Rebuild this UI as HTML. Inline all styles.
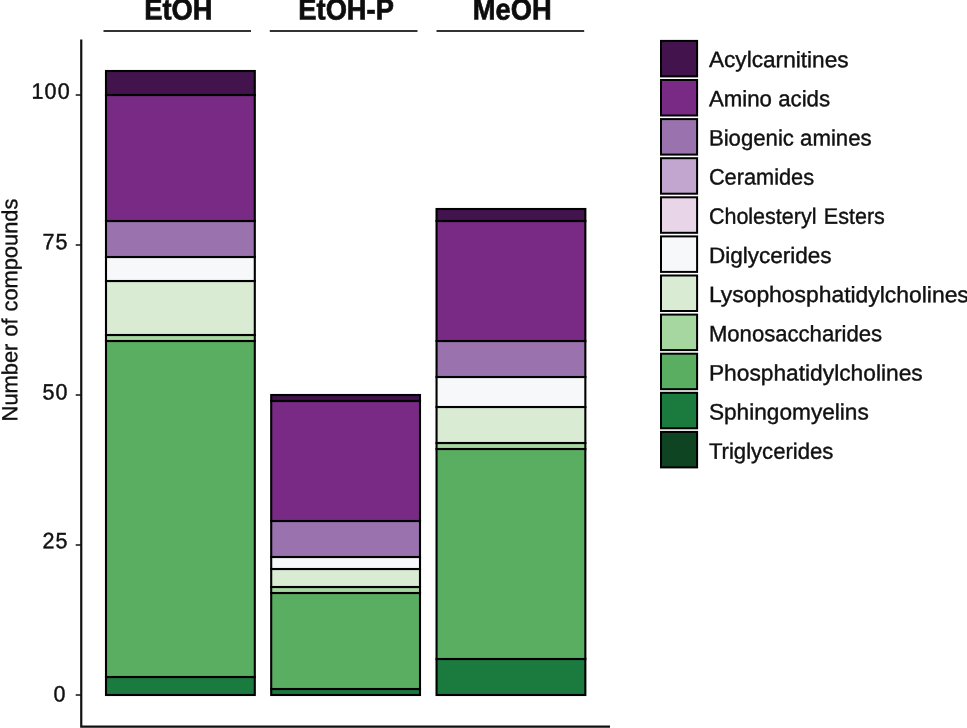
<!DOCTYPE html>
<html lang="en"><head><meta charset="utf-8"><title>Number of compounds</title>
<style>
html,body{margin:0;padding:0;background:#fff;}
body{width:967px;height:728px;overflow:hidden;}
svg{display:block;}
text{font-family:"Liberation Sans",sans-serif;fill:#111;text-rendering:geometricPrecision;}
.hd{font-weight:bold;font-size:27.5px;text-anchor:middle;fill:#0d0d0d;stroke:#0d0d0d;stroke-width:0.65px;stroke-linejoin:miter;}
.tk{font-size:22.2px;letter-spacing:1.25px;text-anchor:end;stroke:#111;stroke-width:0.45px;}
.lg{font-size:22.3px;stroke:#111;stroke-width:0.4px;}
</style></head><body>
<svg width="967" height="728" viewBox="0 0 967 728">
<rect width="967" height="728" fill="#fff"/>
<text class="hd" transform="translate(178.4,19.45) rotate(0.03) scale(0.992,1.075)">EtOH</text>
<text class="hd" transform="translate(346.1,19.45) rotate(0.03) scale(0.992,1.075)">EtOH-P</text>
<text class="hd" transform="translate(512.2,19.45) rotate(0.03) scale(0.992,1.075)">MeOH</text>
<line x1="103.5" x2="251" y1="31" y2="31" stroke="#333" stroke-width="2"/>
<line x1="269.8" x2="417.5" y1="31" y2="31" stroke="#333" stroke-width="2"/>
<line x1="436.5" x2="584.2" y1="31" y2="31" stroke="#333" stroke-width="2"/>
<path d="M81.25 39.5 V726.6 H610" fill="none" stroke="#111" stroke-width="2.2"/>
<line x1="75.7" x2="81" y1="695" y2="695" stroke="#111" stroke-width="1.5"/>
<text class="tk" transform="translate(66.6,701.4) rotate(0.03) scale(0.97,1)">0</text>
<line x1="75.7" x2="81" y1="545" y2="545" stroke="#111" stroke-width="1.5"/>
<text class="tk" transform="translate(68.75,548.2) rotate(0.03) scale(0.97,1)">25</text>
<line x1="75.7" x2="81" y1="395" y2="395" stroke="#111" stroke-width="1.5"/>
<text class="tk" transform="translate(68.75,399.6) rotate(0.03) scale(0.97,1)">50</text>
<line x1="75.7" x2="81" y1="245" y2="245" stroke="#111" stroke-width="1.5"/>
<text class="tk" transform="translate(68.75,249.2) rotate(0.03) scale(0.97,1)">75</text>
<line x1="75.7" x2="81" y1="95" y2="95" stroke="#111" stroke-width="1.5"/>
<text class="tk" transform="translate(71.0,98.7) rotate(0.03) scale(0.97,1)">100</text>
<text transform="translate(17.2,310) rotate(-90.03)" style="stroke:#111;stroke-width:0.35px;word-spacing:0.9px;font-size:21.85px;text-anchor:middle">Number of compounds</text>
<rect x="106" y="677" width="148.8" height="18" fill="#1b7a3e" stroke="#000" stroke-width="2.1"/>
<rect x="106" y="341" width="148.8" height="336" fill="#5aae61" stroke="#000" stroke-width="2.1"/>
<rect x="106" y="335" width="148.8" height="6" fill="#a6d7a0" stroke="#000" stroke-width="2.1"/>
<rect x="106" y="281" width="148.8" height="54" fill="#d9ebd3" stroke="#000" stroke-width="2.1"/>
<rect x="106" y="257" width="148.8" height="24" fill="#f7f8fa" stroke="#000" stroke-width="2.1"/>
<rect x="106" y="221" width="148.8" height="36" fill="#9a72ae" stroke="#000" stroke-width="2.1"/>
<rect x="106" y="95" width="148.8" height="126" fill="#782a84" stroke="#000" stroke-width="2.1"/>
<rect x="106" y="71" width="148.8" height="24" fill="#42134d" stroke="#000" stroke-width="2.1"/>
<rect x="271.2" y="689" width="148.8" height="6" fill="#1b7a3e" stroke="#000" stroke-width="2.1"/>
<rect x="271.2" y="593" width="148.8" height="96" fill="#5aae61" stroke="#000" stroke-width="2.1"/>
<rect x="271.2" y="587" width="148.8" height="6" fill="#a6d7a0" stroke="#000" stroke-width="2.1"/>
<rect x="271.2" y="569" width="148.8" height="18" fill="#d9ebd3" stroke="#000" stroke-width="2.1"/>
<rect x="271.2" y="557" width="148.8" height="12" fill="#f7f8fa" stroke="#000" stroke-width="2.1"/>
<rect x="271.2" y="521" width="148.8" height="36" fill="#9a72ae" stroke="#000" stroke-width="2.1"/>
<rect x="271.2" y="401" width="148.8" height="120" fill="#782a84" stroke="#000" stroke-width="2.1"/>
<rect x="271.2" y="395" width="148.8" height="6" fill="#42134d" stroke="#000" stroke-width="2.1"/>
<rect x="436.55" y="659" width="148.8" height="36" fill="#1b7a3e" stroke="#000" stroke-width="2.1"/>
<rect x="436.55" y="449" width="148.8" height="210" fill="#5aae61" stroke="#000" stroke-width="2.1"/>
<rect x="436.55" y="443" width="148.8" height="6" fill="#a6d7a0" stroke="#000" stroke-width="2.1"/>
<rect x="436.55" y="407" width="148.8" height="36" fill="#d9ebd3" stroke="#000" stroke-width="2.1"/>
<rect x="436.55" y="377" width="148.8" height="30" fill="#f7f8fa" stroke="#000" stroke-width="2.1"/>
<rect x="436.55" y="341" width="148.8" height="36" fill="#9a72ae" stroke="#000" stroke-width="2.1"/>
<rect x="436.55" y="221" width="148.8" height="120" fill="#782a84" stroke="#000" stroke-width="2.1"/>
<rect x="436.55" y="209" width="148.8" height="12" fill="#42134d" stroke="#000" stroke-width="2.1"/>
<rect x="661" y="40.9" width="36.1" height="35.5" fill="#42134d" stroke="#000" stroke-width="2"/>
<text class="lg" transform="translate(708.9,67.10) rotate(0.03)" textLength="139.7" lengthAdjust="spacingAndGlyphs">Acylcarnitines</text>
<rect x="661" y="80.0" width="36.1" height="35.5" fill="#782a84" stroke="#000" stroke-width="2"/>
<text class="lg" transform="translate(708.9,106.26) rotate(0.03)" textLength="121.2" lengthAdjust="spacingAndGlyphs">Amino acids</text>
<rect x="661" y="119.1" width="36.1" height="35.5" fill="#9a72ae" stroke="#000" stroke-width="2"/>
<text class="lg" transform="translate(708.9,145.42) rotate(0.03)" textLength="162.7" lengthAdjust="spacingAndGlyphs">Biogenic amines</text>
<rect x="661" y="158.2" width="36.1" height="35.5" fill="#c2a6cf" stroke="#000" stroke-width="2"/>
<text class="lg" transform="translate(708.9,184.58) rotate(0.03)" textLength="105.2" lengthAdjust="spacingAndGlyphs">Ceramides</text>
<rect x="661" y="197.3" width="36.1" height="35.5" fill="#e8d5e8" stroke="#000" stroke-width="2"/>
<text class="lg" style="word-spacing:1.5px" transform="translate(708.9,223.74) rotate(0.03)" textLength="175.9" lengthAdjust="spacingAndGlyphs">Cholesteryl Esters</text>
<rect x="661" y="236.4" width="36.1" height="35.5" fill="#f7f8fa" stroke="#000" stroke-width="2"/>
<text class="lg" transform="translate(708.9,262.90) rotate(0.03)" textLength="122.6" lengthAdjust="spacingAndGlyphs">Diglycerides</text>
<rect x="661" y="275.5" width="36.1" height="35.5" fill="#d9ebd3" stroke="#000" stroke-width="2"/>
<text class="lg" transform="translate(708.9,302.06) rotate(0.03)" textLength="259.9" lengthAdjust="spacingAndGlyphs">Lysophosphatidylcholines</text>
<rect x="661" y="314.6" width="36.1" height="35.5" fill="#a6d7a0" stroke="#000" stroke-width="2"/>
<text class="lg" transform="translate(708.9,341.22) rotate(0.03)" textLength="173.2" lengthAdjust="spacingAndGlyphs">Monosaccharides</text>
<rect x="661" y="353.7" width="36.1" height="35.5" fill="#5aae61" stroke="#000" stroke-width="2"/>
<text class="lg" transform="translate(708.9,380.38) rotate(0.03)" textLength="213.8" lengthAdjust="spacingAndGlyphs">Phosphatidylcholines</text>
<rect x="661" y="392.8" width="36.1" height="35.5" fill="#1b7a3e" stroke="#000" stroke-width="2"/>
<text class="lg" transform="translate(708.9,419.54) rotate(0.03)" textLength="159.9" lengthAdjust="spacingAndGlyphs">Sphingomyelins</text>
<rect x="661" y="431.9" width="36.1" height="35.5" fill="#0f4423" stroke="#000" stroke-width="2"/>
<text class="lg" transform="translate(708.9,458.70) rotate(0.03)" textLength="124.5" lengthAdjust="spacingAndGlyphs">Triglycerides</text>
</svg>
</body></html>
